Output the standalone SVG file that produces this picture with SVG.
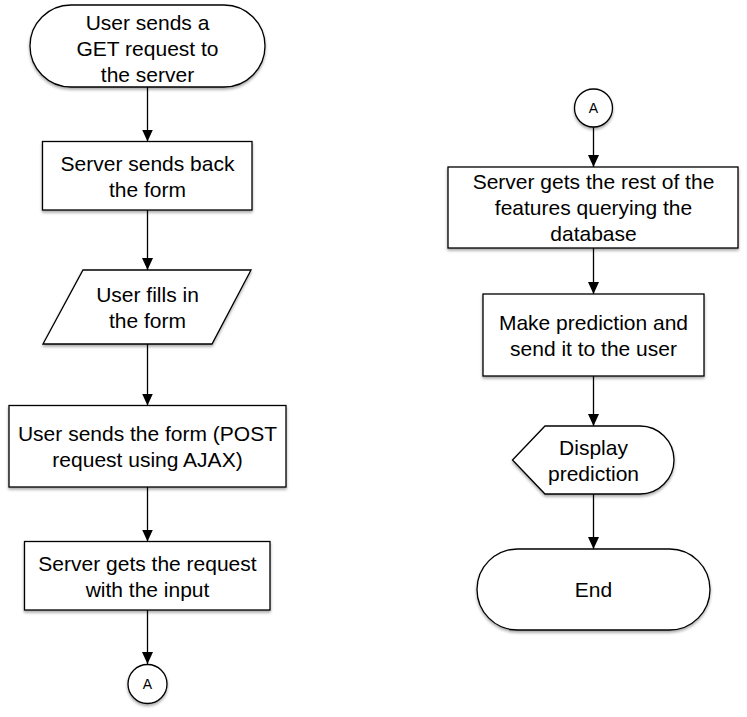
<svg xmlns="http://www.w3.org/2000/svg" width="747" height="717" viewBox="0 0 747 717">
<style>
.s{fill:#fff;stroke:#000;stroke-width:1.3;filter:url(#sh)}
.t{font-family:"Liberation Sans",Arial,sans-serif;font-size:21px;fill:#000;text-anchor:middle}
.a{font-family:"Liberation Sans",Arial,sans-serif;font-size:14px;fill:#000;text-anchor:middle}
.c{fill:none;stroke:#000;stroke-width:1.3;marker-end:url(#ah)}
</style>
<defs>
<filter id="sh" x="-10%" y="-10%" width="120%" height="130%">
<feGaussianBlur in="SourceAlpha" stdDeviation="1.5"/>
<feOffset dx="0" dy="2" result="b"/>
<feComponentTransfer><feFuncA type="linear" slope="0.35"/></feComponentTransfer>
<feMerge><feMergeNode/><feMergeNode in="SourceGraphic"/></feMerge>
</filter>
<marker id="ah" markerUnits="userSpaceOnUse" markerWidth="12" markerHeight="14" refX="12" refY="5.5" orient="auto">
<path d="M0,0 L12,5.5 L0,11 Z" fill="#000"/>
</marker>
</defs>
<rect width="747" height="717" fill="#fff"/>
<g id="connectors">
<path class="c" d="M147.5,87 V141.5"/>
<path class="c" d="M147.5,210 V270"/>
<path class="c" d="M147.5,344 V405.5"/>
<path class="c" d="M147.5,487 V541.5"/>
<path class="c" d="M147.5,610 V664"/>
<path class="c" d="M593.5,127 V167"/>
<path class="c" d="M593.5,248 V294"/>
<path class="c" d="M593.5,376 V426"/>
<path class="c" d="M593.5,494 V549"/>
</g>
<g id="start">
<rect class="s" x="30" y="5" width="235" height="82" rx="41"/>
<text class="t" x="147.5" y="29.5">User sends a</text>
<text class="t" x="147.5" y="55.5">GET request to</text>
<text class="t" x="147.5" y="81.5">the server</text>
</g>
<g id="sendform">
<rect class="s" x="42.5" y="141.5" width="209.5" height="68.5"/>
<text class="t" x="147.5" y="170.5">Server sends back</text>
<text class="t" x="147.5" y="196.5">the form</text>
</g>
<g id="fillform">
<path class="s" d="M83,270 H251 L212,344 H43 Z"/>
<text class="t" x="147.5" y="301.5">User fills in</text>
<text class="t" x="147.5" y="327.5">the form</text>
</g>
<g id="post">
<rect class="s" x="9" y="405.5" width="277" height="81.5"/>
<text class="t" x="147.5" y="440.5">User sends the form (POST</text>
<text class="t" x="147.5" y="466.5">request using AJAX)</text>
</g>
<g id="getrequest">
<rect class="s" x="24.5" y="541.5" width="245.5" height="68.5"/>
<text class="t" x="147.5" y="570.5">Server gets the request</text>
<text class="t" x="147.5" y="596.5">with the input</text>
</g>
<g id="connA1">
<circle class="s" cx="147.5" cy="684" r="19.5"/>
<text class="a" x="147.5" y="689">A</text>
</g>
<g id="connA2">
<circle class="s" cx="593.5" cy="108" r="19"/>
<text class="a" x="593.5" y="113">A</text>
</g>
<g id="features">
<rect class="s" x="448" y="167" width="290" height="81"/>
<text class="t" x="593.5" y="189">Server gets the rest of the</text>
<text class="t" x="593.5" y="215">features querying the</text>
<text class="t" x="593.5" y="241">database</text>
</g>
<g id="predict">
<rect class="s" x="483" y="294" width="221" height="82"/>
<text class="t" x="593.5" y="329.5">Make prediction and</text>
<text class="t" x="593.5" y="355.5">send it to the user</text>
</g>
<g id="display">
<path class="s" d="M545,426 H640 A34,34 0 0 1 640,494 H545 L512.5,460 Z"/>
<text class="t" x="593.5" y="454.5">Display</text>
<text class="t" x="593.5" y="480.5">prediction</text>
</g>
<g id="end">
<rect class="s" x="477" y="549" width="233" height="81" rx="40.5"/>
<text class="t" x="593.5" y="597">End</text>
</g>
</svg>
